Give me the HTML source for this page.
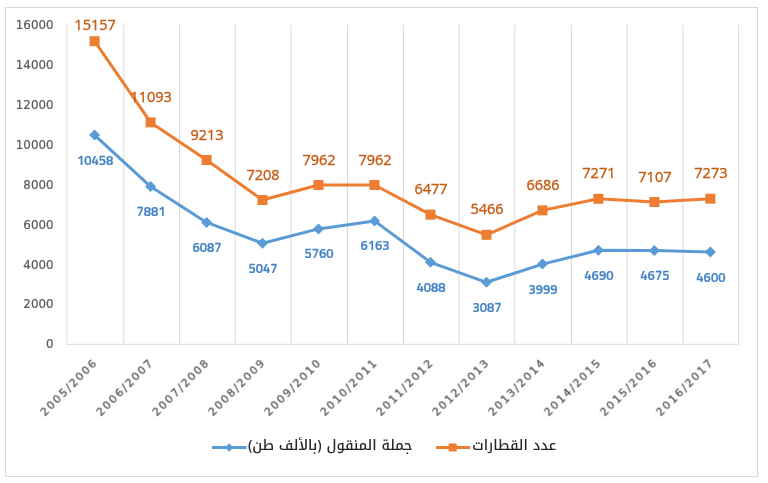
<!DOCTYPE html>
<html lang="ar"><head><meta charset="utf-8"><title>chart</title>
<style>
html,body{margin:0;padding:0;background:#fff;width:768px;height:483px;overflow:hidden}
svg{display:block}
text{will-change:transform}
.yl{font-family:"DejaVu Sans", sans-serif;font-size:11.85px;fill:#595959;stroke:#595959;stroke-width:0.2px}
.xl{font-family:"DejaVu Sans", "Liberation Sans", sans-serif;font-size:11px;fill:#595959;stroke:#595959;stroke-width:0.3px;letter-spacing:1.8px}
.ol{font-family:"Open Sans", "Liberation Sans", Arial, sans-serif;font-size:14.5px;fill:#C55A11;stroke:#C55A11;stroke-width:0.35px}
.bl{font-family:"Titillium Web", "Open Sans", "Liberation Sans", Arial, sans-serif;font-size:13px;font-weight:600;fill:#4282C6;stroke:#4282C6;stroke-width:0.2px}
.lg{font-family:"Noto Kufi Arabic", "DejaVu Sans", sans-serif;font-size:14.1px;font-weight:500;fill:#262626}
</style></head>
<body>
<svg width="768" height="483" viewBox="0 0 768 483">
<rect x="5.5" y="7.5" width="752" height="469" fill="#fff" stroke="#D9D9D9" stroke-width="1"/>
<line x1="66.88" y1="25.0" x2="66.88" y2="344.0" stroke="#D9D9D9" stroke-width="1"/>
<line x1="123.80" y1="25.0" x2="123.80" y2="344.0" stroke="#D9D9D9" stroke-width="1"/>
<line x1="179.50" y1="25.0" x2="179.50" y2="344.0" stroke="#D9D9D9" stroke-width="1"/>
<line x1="235.25" y1="25.0" x2="235.25" y2="344.0" stroke="#D9D9D9" stroke-width="1"/>
<line x1="290.95" y1="25.0" x2="290.95" y2="344.0" stroke="#D9D9D9" stroke-width="1"/>
<line x1="347.45" y1="25.0" x2="347.45" y2="344.0" stroke="#D9D9D9" stroke-width="1"/>
<line x1="403.40" y1="25.0" x2="403.40" y2="344.0" stroke="#D9D9D9" stroke-width="1"/>
<line x1="459.10" y1="25.0" x2="459.10" y2="344.0" stroke="#D9D9D9" stroke-width="1"/>
<line x1="514.80" y1="25.0" x2="514.80" y2="344.0" stroke="#D9D9D9" stroke-width="1"/>
<line x1="571.40" y1="25.0" x2="571.40" y2="344.0" stroke="#D9D9D9" stroke-width="1"/>
<line x1="627.10" y1="25.0" x2="627.10" y2="344.0" stroke="#D9D9D9" stroke-width="1"/>
<line x1="682.95" y1="25.0" x2="682.95" y2="344.0" stroke="#D9D9D9" stroke-width="1"/>
<line x1="738.60" y1="25.0" x2="738.60" y2="344.0" stroke="#D9D9D9" stroke-width="1"/>
<line x1="66.1" y1="344.3" x2="738.9" y2="344.3" stroke="#D9D9D9" stroke-width="1"/>
<text x="53.5" y="348.3" text-anchor="end" class="yl">0</text>
<text x="53.5" y="308.4" text-anchor="end" class="yl">2000</text>
<text x="53.5" y="268.6" text-anchor="end" class="yl">4000</text>
<text x="53.5" y="228.7" text-anchor="end" class="yl">6000</text>
<text x="53.5" y="188.8" text-anchor="end" class="yl">8000</text>
<text x="53.5" y="148.9" text-anchor="end" class="yl">10000</text>
<text x="53.5" y="109.0" text-anchor="end" class="yl">12000</text>
<text x="53.5" y="69.2" text-anchor="end" class="yl">14000</text>
<text x="53.5" y="29.3" text-anchor="end" class="yl">16000</text>
<text x="98.4" y="362.9" text-anchor="end" class="xl" transform="rotate(-45 98.4 362.9)">2005/2006</text>
<text x="154.4" y="362.9" text-anchor="end" class="xl" transform="rotate(-45 154.4 362.9)">2006/2007</text>
<text x="210.4" y="362.9" text-anchor="end" class="xl" transform="rotate(-45 210.4 362.9)">2007/2008</text>
<text x="266.3" y="362.9" text-anchor="end" class="xl" transform="rotate(-45 266.3 362.9)">2008/2009</text>
<text x="322.3" y="362.9" text-anchor="end" class="xl" transform="rotate(-45 322.3 362.9)">2009/2010</text>
<text x="378.3" y="362.9" text-anchor="end" class="xl" transform="rotate(-45 378.3 362.9)">2010/2011</text>
<text x="434.3" y="362.9" text-anchor="end" class="xl" transform="rotate(-45 434.3 362.9)">2011/2012</text>
<text x="490.3" y="362.9" text-anchor="end" class="xl" transform="rotate(-45 490.3 362.9)">2012/2013</text>
<text x="546.3" y="362.9" text-anchor="end" class="xl" transform="rotate(-45 546.3 362.9)">2013/2014</text>
<text x="602.2" y="362.9" text-anchor="end" class="xl" transform="rotate(-45 602.2 362.9)">2014/2015</text>
<text x="658.2" y="362.9" text-anchor="end" class="xl" transform="rotate(-45 658.2 362.9)">2015/2016</text>
<text x="714.2" y="362.9" text-anchor="end" class="xl" transform="rotate(-45 714.2 362.9)">2016/2017</text>
<polyline points="94.6,135.1 150.6,186.6 206.6,222.4 262.5,243.2 318.5,228.9 374.5,220.9 430.5,262.3 486.5,282.3 542.5,264.1 598.4,250.3 654.4,250.6 710.4,252.1" fill="none" stroke="#5B9BD5" stroke-width="3" stroke-linejoin="round" stroke-linecap="round"/>
<polyline points="94.6,41.2 150.6,122.4 206.6,160.0 262.5,200.0 318.5,185.0 374.5,185.0 430.5,214.6 486.5,234.8 542.5,210.4 598.4,198.8 654.4,202.0 710.4,198.7" fill="none" stroke="#ED7D31" stroke-width="3" stroke-linejoin="round" stroke-linecap="round"/>
<path d="M94.6 129.6L100.1 135.1L94.6 140.6L89.1 135.1Z" fill="#5B9BD5"/>
<path d="M150.6 181.1L156.1 186.6L150.6 192.1L145.1 186.6Z" fill="#5B9BD5"/>
<path d="M206.6 216.9L212.1 222.4L206.6 227.9L201.1 222.4Z" fill="#5B9BD5"/>
<path d="M262.5 237.7L268.0 243.2L262.5 248.7L257.0 243.2Z" fill="#5B9BD5"/>
<path d="M318.5 223.4L324.0 228.9L318.5 234.4L313.0 228.9Z" fill="#5B9BD5"/>
<path d="M374.5 215.4L380.0 220.9L374.5 226.4L369.0 220.9Z" fill="#5B9BD5"/>
<path d="M430.5 256.8L436.0 262.3L430.5 267.8L425.0 262.3Z" fill="#5B9BD5"/>
<path d="M486.5 276.8L492.0 282.3L486.5 287.8L481.0 282.3Z" fill="#5B9BD5"/>
<path d="M542.5 258.6L548.0 264.1L542.5 269.6L537.0 264.1Z" fill="#5B9BD5"/>
<path d="M598.4 244.8L603.9 250.3L598.4 255.8L592.9 250.3Z" fill="#5B9BD5"/>
<path d="M654.4 245.1L659.9 250.6L654.4 256.1L648.9 250.6Z" fill="#5B9BD5"/>
<path d="M710.4 246.6L715.9 252.1L710.4 257.6L704.9 252.1Z" fill="#5B9BD5"/>
<rect x="89.6" y="36.2" width="10" height="10" fill="#ED7D31"/>
<rect x="145.6" y="117.4" width="10" height="10" fill="#ED7D31"/>
<rect x="201.6" y="155.0" width="10" height="10" fill="#ED7D31"/>
<rect x="257.5" y="195.0" width="10" height="10" fill="#ED7D31"/>
<rect x="313.5" y="180.0" width="10" height="10" fill="#ED7D31"/>
<rect x="369.5" y="180.0" width="10" height="10" fill="#ED7D31"/>
<rect x="425.5" y="209.6" width="10" height="10" fill="#ED7D31"/>
<rect x="481.5" y="229.8" width="10" height="10" fill="#ED7D31"/>
<rect x="537.5" y="205.4" width="10" height="10" fill="#ED7D31"/>
<rect x="593.4" y="193.8" width="10" height="10" fill="#ED7D31"/>
<rect x="649.4" y="197.0" width="10" height="10" fill="#ED7D31"/>
<rect x="705.4" y="193.7" width="10" height="10" fill="#ED7D31"/>
<text x="95.1" y="29.8" text-anchor="middle" class="ol">15157</text>
<text x="151.1" y="102.0" text-anchor="middle" class="ol">11093</text>
<text x="207.1" y="139.6" text-anchor="middle" class="ol">9213</text>
<text x="263.0" y="179.6" text-anchor="middle" class="ol">7208</text>
<text x="319.0" y="164.6" text-anchor="middle" class="ol">7962</text>
<text x="375.0" y="164.6" text-anchor="middle" class="ol">7962</text>
<text x="431.0" y="194.2" text-anchor="middle" class="ol">6477</text>
<text x="487.0" y="214.4" text-anchor="middle" class="ol">5466</text>
<text x="543.0" y="190.0" text-anchor="middle" class="ol">6686</text>
<text x="598.9" y="178.4" text-anchor="middle" class="ol">7271</text>
<text x="654.9" y="181.6" text-anchor="middle" class="ol">7107</text>
<text x="710.9" y="178.3" text-anchor="middle" class="ol">7273</text>
<text x="95.1" y="164.5" text-anchor="middle" class="bl">10458</text>
<text x="151.1" y="216.0" text-anchor="middle" class="bl">7881</text>
<text x="207.1" y="251.8" text-anchor="middle" class="bl">6087</text>
<text x="263.0" y="272.6" text-anchor="middle" class="bl">5047</text>
<text x="319.0" y="258.3" text-anchor="middle" class="bl">5760</text>
<text x="375.0" y="250.3" text-anchor="middle" class="bl">6163</text>
<text x="431.0" y="291.7" text-anchor="middle" class="bl">4088</text>
<text x="487.0" y="311.7" text-anchor="middle" class="bl">3087</text>
<text x="543.0" y="293.5" text-anchor="middle" class="bl">3999</text>
<text x="598.9" y="279.7" text-anchor="middle" class="bl">4690</text>
<text x="654.9" y="280.0" text-anchor="middle" class="bl">4675</text>
<text x="710.9" y="281.5" text-anchor="middle" class="bl">4600</text>
<line x1="212" y1="447.5" x2="246.5" y2="447.5" stroke="#5B9BD5" stroke-width="3"/>
<path d="M229.2 443.2L233.5 447.5L229.2 451.8L224.9 447.5Z" fill="#5B9BD5"/>
<text x="412.3" y="450.4" text-anchor="start" direction="rtl" class="lg">جملة المنقول (بالألف طن)</text>
<line x1="436" y1="447.5" x2="470.3" y2="447.5" stroke="#ED7D31" stroke-width="3"/>
<rect x="448.7" y="443.5" width="8" height="8" fill="#ED7D31"/>
<text x="556.2" y="450.4" text-anchor="start" direction="rtl" class="lg">عدد القطارات</text>
</svg>
</body></html>
